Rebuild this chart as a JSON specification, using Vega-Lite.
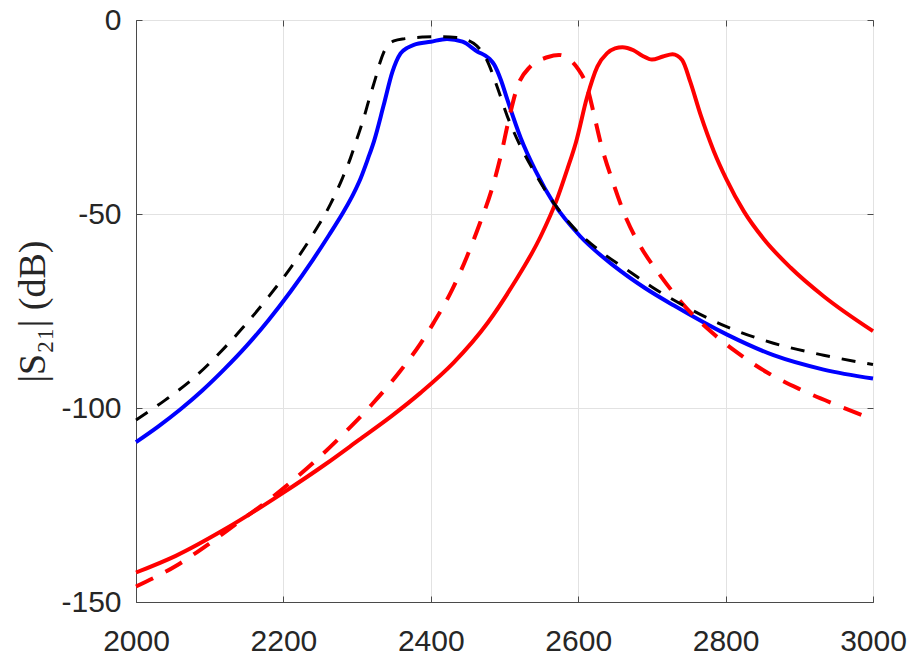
{
  "$schema": "https://vega.github.io/schema/vega-lite/v6.json",
  "autosize": "none",
  "width": 737,
  "height": 582,
  "padding": {"left": 136, "top": 20, "right": 39, "bottom": 53},
  "background": "white",
  "config": {
    "view": {"stroke": "#4a4a4a", "strokeWidth": 1},
    "axis": {
      "labelFont": "Liberation Sans",
      "labelFontSize": 30,
      "labelColor": "#262626",
      "domainColor": "#4a4a4a",
      "tickColor": "#4a4a4a",
      "gridColor": "#e2e2e2",
      "gridWidth": 1,
      "tickSize": -6
    }
  },
  "data": {
    "values": [
      {"f": 2000, "db": -108.8, "s": "A"}, {"f": 2030, "db": -104.8, "s": "A"}, {"f": 2060, "db": -100.4, "s": "A"},
      {"f": 2090, "db": -95.5, "s": "A"}, {"f": 2120, "db": -90.0, "s": "A"}, {"f": 2150, "db": -84.0, "s": "A"},
      {"f": 2180, "db": -77.3, "s": "A"}, {"f": 2210, "db": -69.9, "s": "A"}, {"f": 2240, "db": -61.8, "s": "A"},
      {"f": 2262, "db": -55.4, "s": "A"}, {"f": 2282, "db": -49.3, "s": "A"}, {"f": 2295, "db": -44.8, "s": "A"},
      {"f": 2305, "db": -40.7, "s": "A"}, {"f": 2315, "db": -35.6, "s": "A"}, {"f": 2323, "db": -31.2, "s": "A"},
      {"f": 2336, "db": -22.0, "s": "A"}, {"f": 2348, "db": -13.3, "s": "A"}, {"f": 2359, "db": -8.6, "s": "A"},
      {"f": 2368, "db": -7.2, "s": "A"}, {"f": 2377, "db": -6.4, "s": "A"}, {"f": 2400, "db": -5.6, "s": "A"},
      {"f": 2422, "db": -4.9, "s": "A"}, {"f": 2443, "db": -5.6, "s": "A"}, {"f": 2463, "db": -8.1, "s": "A"},
      {"f": 2479, "db": -9.9, "s": "A"}, {"f": 2486, "db": -11.5, "s": "A"}, {"f": 2495, "db": -15.4, "s": "A"},
      {"f": 2504, "db": -20.6, "s": "A"}, {"f": 2522, "db": -30.4, "s": "A"}, {"f": 2542, "db": -38.8, "s": "A"},
      {"f": 2567, "db": -47.3, "s": "A"}, {"f": 2603, "db": -55.8, "s": "A"}, {"f": 2648, "db": -63.3, "s": "A"},
      {"f": 2690, "db": -69.0, "s": "A"}, {"f": 2730, "db": -73.6, "s": "A"}, {"f": 2802, "db": -81.1, "s": "A"},
      {"f": 2865, "db": -86.4, "s": "A"}, {"f": 2933, "db": -90.1, "s": "A"}, {"f": 3000, "db": -92.4, "s": "A"},

      {"f": 2000, "db": -103.1, "s": "A0"}, {"f": 2040, "db": -97.9, "s": "A0"}, {"f": 2080, "db": -92.0, "s": "A0"},
      {"f": 2120, "db": -84.5, "s": "A0"}, {"f": 2150, "db": -78.2, "s": "A0"}, {"f": 2180, "db": -71.3, "s": "A0"},
      {"f": 2210, "db": -63.8, "s": "A0"}, {"f": 2240, "db": -55.3, "s": "A0"}, {"f": 2264, "db": -47.4, "s": "A0"},
      {"f": 2280, "db": -40.8, "s": "A0"}, {"f": 2291, "db": -35.6, "s": "A0"}, {"f": 2300, "db": -30.5, "s": "A0"},
      {"f": 2309, "db": -25.3, "s": "A0"}, {"f": 2317, "db": -20.0, "s": "A0"}, {"f": 2325, "db": -15.0, "s": "A0"},
      {"f": 2331, "db": -11.0, "s": "A0"}, {"f": 2336, "db": -8.4, "s": "A0"}, {"f": 2343, "db": -6.3, "s": "A0"},
      {"f": 2350, "db": -5.4, "s": "A0"}, {"f": 2365, "db": -4.8, "s": "A0"}, {"f": 2390, "db": -4.4, "s": "A0"},
      {"f": 2413, "db": -4.3, "s": "A0"}, {"f": 2435, "db": -4.5, "s": "A0"}, {"f": 2449, "db": -5.1, "s": "A0"},
      {"f": 2458, "db": -6.0, "s": "A0"}, {"f": 2467, "db": -7.6, "s": "A0"}, {"f": 2476, "db": -10.3, "s": "A0"},
      {"f": 2490, "db": -17.2, "s": "A0"}, {"f": 2504, "db": -24.9, "s": "A0"}, {"f": 2513, "db": -29.0, "s": "A0"},
      {"f": 2540, "db": -39.0, "s": "A0"}, {"f": 2567, "db": -47.2, "s": "A0"}, {"f": 2603, "db": -55.3, "s": "A0"},
      {"f": 2630, "db": -59.6, "s": "A0"}, {"f": 2671, "db": -65.0, "s": "A0"}, {"f": 2700, "db": -68.8, "s": "A0"},
      {"f": 2743, "db": -73.6, "s": "A0"}, {"f": 2802, "db": -79.1, "s": "A0"}, {"f": 2865, "db": -83.3, "s": "A0"},
      {"f": 2933, "db": -86.4, "s": "A0"}, {"f": 3000, "db": -88.8, "s": "A0"},

      {"f": 2000, "db": -142.4, "s": "B"}, {"f": 2054, "db": -138.1, "s": "B"}, {"f": 2121, "db": -131.2, "s": "B"},
      {"f": 2200, "db": -121.8, "s": "B"}, {"f": 2257, "db": -114.5, "s": "B"}, {"f": 2302, "db": -108.3, "s": "B"},
      {"f": 2348, "db": -101.9, "s": "B"}, {"f": 2386, "db": -96.1, "s": "B"}, {"f": 2431, "db": -88.3, "s": "B"},
      {"f": 2477, "db": -78.1, "s": "B"}, {"f": 2513, "db": -67.8, "s": "B"}, {"f": 2549, "db": -55.8, "s": "B"},
      {"f": 2571, "db": -46.3, "s": "B"}, {"f": 2585, "db": -38.6, "s": "B"}, {"f": 2597, "db": -31.5, "s": "B"},
      {"f": 2612, "db": -19.9, "s": "B"}, {"f": 2626, "db": -12.0, "s": "B"}, {"f": 2639, "db": -8.6, "s": "B"},
      {"f": 2650, "db": -7.3, "s": "B"}, {"f": 2660, "db": -7.0, "s": "B"}, {"f": 2675, "db": -7.8, "s": "B"},
      {"f": 2687, "db": -9.2, "s": "B"}, {"f": 2700, "db": -10.2, "s": "B"}, {"f": 2715, "db": -9.4, "s": "B"},
      {"f": 2728, "db": -8.8, "s": "B"}, {"f": 2741, "db": -10.3, "s": "B"}, {"f": 2752, "db": -15.9, "s": "B"},
      {"f": 2766, "db": -24.4, "s": "B"}, {"f": 2784, "db": -33.8, "s": "B"}, {"f": 2801, "db": -41.0, "s": "B"},
      {"f": 2825, "db": -49.4, "s": "B"}, {"f": 2852, "db": -56.5, "s": "B"}, {"f": 2888, "db": -63.8, "s": "B"},
      {"f": 2933, "db": -71.2, "s": "B"}, {"f": 3000, "db": -80.2, "s": "B"},

      {"f": 2000, "db": -146.0, "s": "B0"}, {"f": 2054, "db": -140.7, "s": "B0"}, {"f": 2099, "db": -135.0, "s": "B0"},
      {"f": 2135, "db": -130.0, "s": "B0"}, {"f": 2176, "db": -124.3, "s": "B0"}, {"f": 2212, "db": -118.8, "s": "B0"},
      {"f": 2248, "db": -112.8, "s": "B0"}, {"f": 2284, "db": -106.2, "s": "B0"}, {"f": 2320, "db": -99.1, "s": "B0"},
      {"f": 2358, "db": -90.6, "s": "B0"}, {"f": 2386, "db": -83.4, "s": "B0"}, {"f": 2404, "db": -78.0, "s": "B0"},
      {"f": 2429, "db": -69.5, "s": "B0"}, {"f": 2449, "db": -61.0, "s": "B0"}, {"f": 2467, "db": -52.2, "s": "B0"},
      {"f": 2483, "db": -43.5, "s": "B0"}, {"f": 2495, "db": -35.0, "s": "B0"}, {"f": 2506, "db": -25.5, "s": "B0"},
      {"f": 2517, "db": -17.5, "s": "B0"}, {"f": 2535, "db": -12.0, "s": "B0"}, {"f": 2558, "db": -9.6, "s": "B0"},
      {"f": 2574, "db": -9.0, "s": "B0"}, {"f": 2590, "db": -10.4, "s": "B0"}, {"f": 2599, "db": -12.4, "s": "B0"},
      {"f": 2612, "db": -17.2, "s": "B0"}, {"f": 2621, "db": -24.0, "s": "B0"}, {"f": 2630, "db": -31.3, "s": "B0"},
      {"f": 2648, "db": -42.3, "s": "B0"}, {"f": 2666, "db": -51.5, "s": "B0"}, {"f": 2685, "db": -58.5, "s": "B0"},
      {"f": 2712, "db": -66.0, "s": "B0"}, {"f": 2741, "db": -73.0, "s": "B0"}, {"f": 2780, "db": -80.3, "s": "B0"},
      {"f": 2815, "db": -85.6, "s": "B0"}, {"f": 2857, "db": -90.9, "s": "B0"}, {"f": 2899, "db": -95.0, "s": "B0"},
      {"f": 2945, "db": -98.8, "s": "B0"}, {"f": 3000, "db": -102.9, "s": "B0"}
    ]
  },
  "layer": [
    {
      "encoding": {
        "x": {
          "field": "f",
          "type": "quantitative",
          "scale": {"domain": [2000, 3000], "nice": false, "zero": false},
          "axis": {
            "title": null,
            "values": [2000, 2200, 2400, 2600, 2800, 3000],
            "format": "d",
            "grid": true,
            "labelPadding": 30,
            "labelFlush": false
          }
        },
        "y": {
          "field": "db",
          "type": "quantitative",
          "scale": {"domain": [-150, 0], "nice": false, "zero": false},
          "axis": {
            "title": "|S₂₁| (dB)",
            "titleFont": "Liberation Serif",
            "titleFontSize": 38,
            "titleFontWeight": "normal",
            "titleColor": "#262626",
            "titlePadding": 8,
            "values": [-150, -100, -50, 0],
            "labelExpr": "datum.value < 0 ? '-' + abs(datum.value) : '' + datum.value",
            "grid": true,
            "labelPadding": 21,
            "labelFlush": false
          }
        }
      },
      "layer": [
        {
          "transform": [{"filter": "datum.s === 'A'"}],
          "mark": {"type": "line", "color": "#0000ff", "strokeWidth": 4, "interpolate": "monotone", "strokeJoin": "round"}
        },
        {
          "transform": [{"filter": "datum.s === 'B'"}],
          "mark": {"type": "line", "color": "#ff0000", "strokeWidth": 4, "interpolate": "monotone", "strokeJoin": "round"}
        },
        {
          "transform": [{"filter": "datum.s === 'B0'"}],
          "mark": {"type": "line", "color": "#ff0000", "strokeWidth": 4, "strokeDash": [19, 14], "strokeCap": "butt", "interpolate": "monotone"}
        },
        {
          "transform": [{"filter": "datum.s === 'A0'"}],
          "mark": {"type": "line", "color": "#000000", "strokeWidth": 3, "strokeDash": [14, 12], "strokeCap": "butt", "interpolate": "monotone"}
        }
      ]
    },
    {
      "mark": {"type": "line", "opacity": 0},
      "encoding": {
        "x": {
          "field": "f",
          "type": "quantitative",
          "scale": {"domain": [2000, 3000], "nice": false, "zero": false},
          "axis": {"orient": "top", "title": null, "labels": false, "domain": false, "grid": false,
                   "values": [2000, 2200, 2400, 2600, 2800, 3000]}
        },
        "y": {
          "field": "db",
          "type": "quantitative",
          "scale": {"domain": [-150, 0], "nice": false, "zero": false},
          "axis": {"orient": "right", "title": null, "labels": false, "domain": false, "grid": false,
                   "values": [-150, -100, -50, 0]}
        }
      }
    }
  ],
  "resolve": {"axis": {"x": "independent", "y": "independent"}}
}
